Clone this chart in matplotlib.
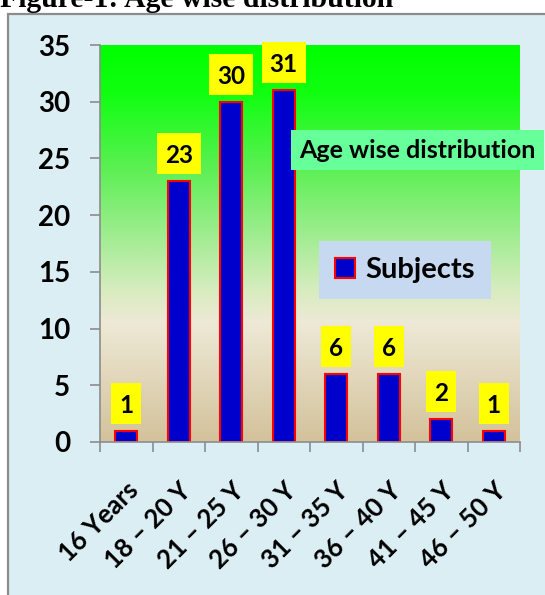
import matplotlib
matplotlib.use("Agg")
import matplotlib.pyplot as plt
import numpy as np
from matplotlib.colors import LinearSegmentedColormap
from matplotlib.patches import Rectangle, Patch

categories = ["16 Years", "18 \u2013 20 Y", "21 \u2013 25 Y", "26 \u2013 30 Y",
              "31 \u2013 35 Y", "36 \u2013 40 Y", "41 \u2013 45 Y", "46 \u2013 50 Y"]
subjects = [1, 23, 30, 31, 6, 6, 2, 1]
yticks = [0, 5, 10, 15, 20, 25, 30, 35]

W, H = 545, 595
fig = plt.figure(figsize=(W / 100, H / 100), dpi=100)
fig.patch.set_facecolor("white")

# chart frame
frame = Rectangle((8 / W, -0.05), 1.0, 1 - 14 / H + 0.05, transform=fig.transFigure,
                  facecolor="#DBEEF4", edgecolor="#8C8C8C", linewidth=1.6, zorder=-5)
fig.patches.append(frame)

fig.text(0.0, 1 - 7 / H, "Figure-1: Age wise distribution", family="Liberation Serif",
         weight="bold", fontsize=21.4, ha="left", va="baseline")

left, right, top, bottom = 100 / W, 520 / W, 45 / H, 442 / H
ax = fig.add_axes([left, 1 - bottom, right - left, bottom - top])
ax.set_facecolor("none")

cmap = LinearSegmentedColormap.from_list("bg", [
    (0.0, "#00FF00"), (0.12, "#10FF10"), (0.3, "#58F050"), (0.5, "#A8EC98"),
    (0.62, "#D8ECC0"), (0.7, "#EEE9D6"), (1.0, "#D3C29B")])
grad = np.linspace(0, 1, 256).reshape(-1, 1)
ax.imshow(grad, cmap=cmap, aspect="auto", extent=(-0.5, 7.5, 0, 35), origin="upper",
          zorder=0)

x = np.arange(len(categories))
bars = ax.bar(x, subjects, width=0.41, color="#0000CC", edgecolor="#FF0000",
              linewidth=1.5, zorder=2, label="Subjects")

# data labels in yellow boxes (size in pixels converted to data units)
px_x = 8 / 420.0          # data units per pixel along x
px_y = 35 / 397.0         # data units per pixel along y
for xi, v in zip(x, subjects):
    s = str(v)
    bw = (30 if len(s) == 1 else 44) * px_x
    bh = 41 * px_y
    b0 = v + 7 * px_y
    ax.add_patch(Rectangle((xi - bw / 2, b0), bw, bh, facecolor="#FFFF00",
                           edgecolor="none", zorder=3, clip_on=False))
    ax.text(xi, b0 + bh / 2, s, ha="center", va="center_baseline", fontsize=17.5,
            weight="bold", family="Lato", zorder=4)

ax.set_xlim(-0.5, 7.5)
ax.set_ylim(0, 35)
ax.set_yticks(yticks)
ax.set_yticklabels([str(t) for t in yticks], fontsize=20, weight="bold", family="Lato")
ax.tick_params(axis="y", length=7.5, color="#8C8C8C", width=1.2, pad=14)

ax.set_xticks(x)
ax.set_xticklabels(categories, rotation=45, ha="right", rotation_mode="anchor",
                   fontsize=18.5, weight="bold", family="Lato")
ax.set_xticks(np.arange(-0.5, 8.0, 1.0), minor=True)
ax.tick_params(axis="x", which="major", length=0, pad=26)
ax.tick_params(axis="x", which="minor", length=7.5, color="#8C8C8C", width=1.2)

for sp in ["top", "right"]:
    ax.spines[sp].set_visible(False)
for sp in ["left", "bottom"]:
    ax.spines[sp].set_color("#8C8C8C")
    ax.spines[sp].set_linewidth(1.2)

fig.text(299 / W, 1 - 150 / H, "Age wise distribution", fontsize=18, weight="bold",
         family="Lato", ha="left", va="center",
         bbox=dict(boxstyle="square,pad=0.33", facecolor="#66FF99", edgecolor="none"))

leg = ax.legend(handles=[Patch(facecolor="#0000CC", edgecolor="#FF0000", linewidth=1.5)],
                labels=["Subjects"], loc="center", bbox_to_anchor=(405 / W, 1 - 270 / H),
                bbox_transform=fig.transFigure, frameon=True, fancybox=False,
                prop=dict(family="Lato", weight="bold", size=21),
                handlelength=0.7, handleheight=0.7, handletextpad=0.35, borderpad=0.55,
                borderaxespad=0)
leg.get_frame().set_facecolor("#C6D9F0")
leg.get_frame().set_edgecolor("none")
leg.get_frame().set_alpha(1)

fig.savefig("out.png", dpi=100)
